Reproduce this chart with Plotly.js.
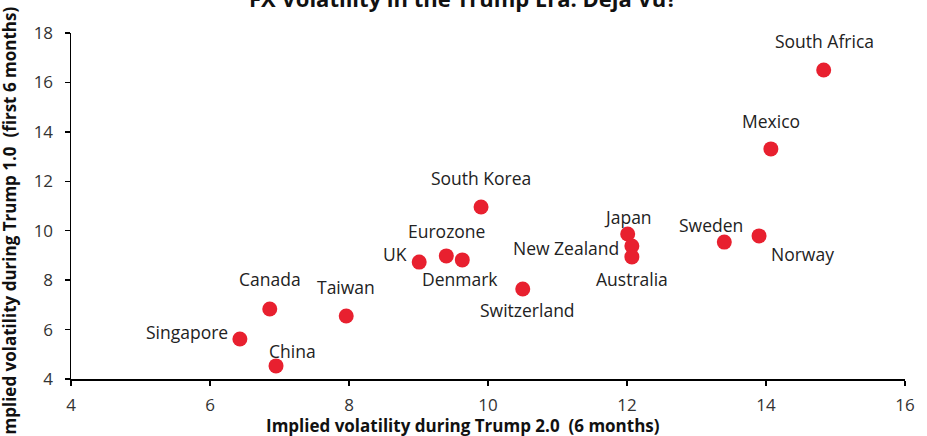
<!DOCTYPE html>
<html><head><meta charset="utf-8">
<script src="https://cdn.plot.ly/plotly-3.0.1.min.js"></script>
<style>html,body{margin:0;padding:0;background:#fff}#chart{width:927px;height:436px}</style>
</head><body><div id="chart"></div>
<script>
const countries = ["South Africa","Mexico","South Korea","Japan","New Zealand","Australia","Sweden","Norway","Eurozone","Denmark","UK","Switzerland","Canada","Taiwan","Singapore","China"];
const trump2 = [14.83,14.07,9.90,12.01,12.07,12.07,13.40,13.90,9.40,9.63,9.01,10.50,6.86,7.96,6.43,6.95];
const trump1 = [16.5,13.31,10.96,9.87,9.38,8.94,9.54,9.79,8.98,8.82,8.73,7.64,6.83,6.55,5.62,4.53];
const xTicks = [4,6,8,10,12,14,16];
const yTicks = [4,6,8,10,12,14,16,18];

// label offsets in pixels (position styling)
const labelDx = [1,0,0,0,-66,0,-13,43,0,-2,-24,5,0,0,-53,16];
const labelDy = [-29,-28,-29,-17,2,22,-17,18,-25,19,-8,21,-30,-29,-7,-15];

const font = "'Open Sans', 'Noto Sans', sans-serif";
const annotations = countries.map((c,i)=>({
  x: trump2[i], y: trump1[i], xref:'x', yref:'y', text:c, showarrow:false,
  xshift: labelDx[i], yshift: -labelDy[i], font:{family:font,size:17.5,color:'#222'}
}));
annotations.push({
  text:'<b>Implied volatility during Trump 2.0  (6 months)</b>', xref:'paper', yref:'paper',
  x:0.4706, y:-0.133, showarrow:false, font:{family:font,size:17,color:'#111'}, yanchor:'middle'
});
annotations.push({
  text:'<b>Implied volatility during Trump 1.0  (first 6 months)</b>', xref:'paper', yref:'paper',
  x:-0.071, y:0.45, showarrow:false, textangle:-90, font:{family:font,size:17,color:'#111'}, xanchor:'center', yanchor:'middle', xshift:-2
});
annotations.push({
  text:'<b>FX Volatility in the Trump Era: Deja Vu?</b>', xref:'paper', yref:'paper',
  x:0.4706, y:1, yshift:35.5, showarrow:false, xanchor:'center', yanchor:'middle',
  font:{family:font,size:22,color:'#111'}
});

const trace = {
  x: trump2, y: trump1, text: countries, type:'scatter', mode:'markers',
  marker:{color:'#E8202F', size:15}, hoverinfo:'text', cliponaxis:false
};
const axisCommon = {
  showgrid:false, zeroline:false, showline:true, linecolor:'#000', linewidth:1.5,
  ticks:'outside', ticklen:5, tickcolor:'#000', tickwidth:1.5,
  tickfont:{family:font,size:17,color:'#333'}
};
const layout = {
  width:927, height:436,
  margin:{l:71, r:22, t:33, b:57},
  paper_bgcolor:'#fff', plot_bgcolor:'#fff',
  xaxis:Object.assign({}, axisCommon, {range:[4,16], tickvals:xTicks, ticktext:xTicks.map(String), ticklabelstandoff:5}),
  yaxis:Object.assign({}, axisCommon, {range:[4,18], tickvals:yTicks, ticktext:yTicks.map(String), ticklabelstandoff:8}),
  showlegend:false,
  annotations: annotations
};
Plotly.newPlot('chart',[trace],layout,{displayModeBar:false, staticPlot:true});
</script></body></html>
